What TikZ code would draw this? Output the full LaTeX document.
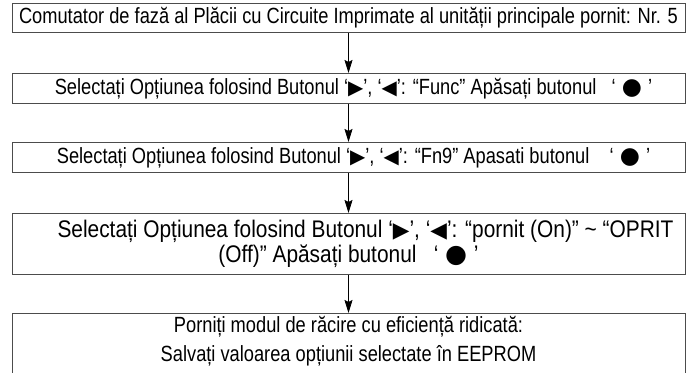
\documentclass[tikz,border=0pt]{standalone}
\usepackage{fontspec}
\setmainfont{Liberation Sans}
\newfontfamily\nar[FakeStretch=0.83]{Liberation Sans}
\newfontfamily\narw[FakeStretch=0.87]{Liberation Sans}
\newfontfamily\symf{DejaVu Sans}
\usetikzlibrary{arrows.meta}
\newcommand{\RT}{{\symf\scalebox{0.9}{▶}}}
\newcommand{\LT}{{\symf\scalebox{0.9}{◀}}}
\newcommand{\DOT}{{\symf\scalebox{1.05}{●}}}
\begin{document}
\begin{tikzpicture}[x=1pt,y=1pt,
  stepbox/.style={draw=black!70, line width=0.9pt, minimum width=673pt, anchor=north,
    inner sep=0pt, align=center, font=\nar\fontsize{22}{24}\selectfont},
  flow/.style={draw=black, line width=0.7pt, -{Stealth[length=13pt,width=8pt,inset=2pt]}}]
\useasboundingbox (0,0) rectangle (692,-372);
\clip (0,0) rectangle (692,-372);
\node[stepbox, minimum height=29pt] (b1) at (348.5,-3)
  {Comutator de fază al Plăcii cu Circuite Imprimate al unității principale pornit: Nr. 5};
\node[stepbox, minimum height=30pt] (b2) at (348.5,-73)
  {\hspace*{10pt}Selectați Opțiunea folosind Butonul ‘\RT’, ‘\LT’: “Func” Apăsați butonul \ \ ‘\;\DOT\;’};
\node[stepbox, minimum height=30pt] (b3) at (348.5,-142)
  {\hspace*{10pt}Selectați Opțiunea folosind Butonul ‘\RT’, ‘\LT’: “Fn9” Apasati butonul \ \ \ ‘\;\DOT\;’};
\node[stepbox, minimum height=61pt, font=\narw\fontsize{24}{25}\selectfont] (b4) at (348.5,-213)
  {\hspace*{34pt}Selectați Opțiunea folosind Butonul ‘\RT’, ‘\LT’: “pornit (On)” \textasciitilde\ “OPRIT\\ (Off)” Apăsați butonul \ \ ‘\;\DOT\;’};
\node[stepbox, minimum height=85pt, font=\nar\fontsize{22}{29}\selectfont] (b5) at (348.5,-313)
  {Porniți modul de răcire cu eficiență ridicată:\\Salvați valoarea opțiunii selectate în EEPROM\\[6pt]\mbox{}};
\draw[flow] (b1) -- (b2);
\draw[flow] (b2) -- (b3);
\draw[flow] (b3) -- (b4);
\draw[flow] (b4) -- (b5);
\end{tikzpicture}
\end{document}
